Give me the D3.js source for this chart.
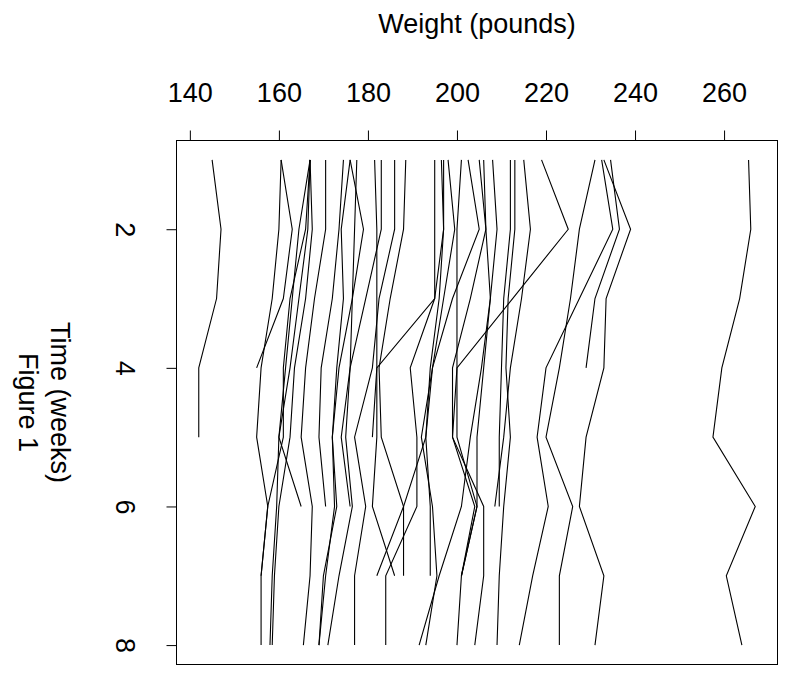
<!DOCTYPE html>
<html>
<head>
<meta charset="utf-8">
<script src="https://cdn.jsdelivr.net/npm/d3@7"></script>
<style>
  body { margin: 0; background: #fff; }
  svg text { font-family: "Liberation Sans", Arial, Helvetica, sans-serif; fill: #000; }
</style>
</head>
<body>
<div id="plot-container"></div>
<script>
// weeks 1..8, one row per subject (null = no measurement)
const weeks = [1, 2, 3, 4, 5, 6, 7, 8];
const weightTicks = [140, 160, 180, 200, 220, 240, 260];
const weekTicks = [2, 4, 6, 8];

const weightSeries = [
    [145, 147, 146, 142, 142],
    [160.5, 163, 161, 155],
    [160.5, 160, 158.5, 156, 155, 157.5, 156],
    [167, 166, 162.5, 161, 161, 157.5, 156, 156],
    [167, 164.5, 163, 161.5, 160, 159.5, 158.5, 158],
    [167, 166.5, 164.5, 162.5, 160, 165],
    [167, 167.5, 166, 163.5, 162.5, 160, 159, 158.5],
    [170.5, 170.5, 168, 166, 165, 167.5, 167, 165.5],
    [174.5, 173.5, 172, 169.5, 169, 170.5],
    [176, 179, 176.5, 173.5, 172, 172.5, 170.5, 169],
    [176, 174, 174.5, 173, 172, 173, 170, 169],
    [177.5, 177, 176.5, 176, 175, 176.5, 173.5, 171],
    [181.5, 182, 182, 182, 181],
    [183, 183, 179.5, 176, 174, 176],
    [186, 186, 182.5, 181, 177, 179.5, 177, 177],
    [188.5, 188, 185, 182.5, 183, 188, 182],
    [195, 195, 195, 182, 182, 181, 186],
    [196.5, 197, 195, 189.5, 191, 191, 184, 184],
    [197, 197, 196, 194, 193, 194, 194],
    [198, 199.5, 197, 194.5, 192, 194.5, 195.5, 193],
    [201, 200, 200, 200, 199, 206, 206, 204],
    [202.5, 205, 199, 194.5, 193, 188, 188],
    [205, 206.5, 203, 199, 199, 204, 201],
    [206, 206.5, 207.5, 205.5, 203, 201, 196, 191.5],
    [208, 209, 207.5, 206, 204.5, 204.5, 201],
    [212, 212, 210.5, 210, 209.5, 209.5],
    [213, 213, 211.5, 211, 212, 210.5, 209.5, 209],
    [215, 216.5, 214.5, 212, 210.5, 208.5],
    [219, 225, 212.5, 200, 200, 204.5, 201, 200],
    [231, 227.5, 225.5, 223, 220, 226, 223, 223],
    [232.5, 235, 227.5, 220, 218, 220.5, 217, 214],
    [233, 239, 233.5, 233, 229, 227.5, 233, 231],
    [234.5, 236.5, 231, 229],
    [265.5, 266, 263.5, 259.5, 257.5, 267, 260.5, 264]
];

const W = 785, H = 677;
const plot = { left: 176.5, right: 777.5, top: 140.5, bottom: 664.5 };

const svg = d3.select("#plot-container")
    .append("svg")
    .attr("width", W)
    .attr("height", H);

// R style axis range: data extent padded by 4% each side
const allW = weightSeries.flat().filter(v => v != null);
const [wMin, wMax] = d3.extent(allW);
const wPad = (wMax - wMin) * 0.04;
const tPad = (d3.max(weeks) - d3.min(weeks)) * 0.04;

const xScale = d3.scaleLinear()
    .domain([wMin - wPad, wMax + wPad])
    .range([plot.left, plot.right]);

const yScale = d3.scaleLinear()
    .domain([d3.min(weeks) - tPad, d3.max(weeks) + tPad])
    .range([plot.top, plot.bottom]);

// lines
const line = d3.line()
    .defined(d => d.w != null)
    .x(d => xScale(d.w))
    .y(d => yScale(d.t));

svg.append("g")
    .selectAll("path")
    .data(weightSeries)
    .enter()
    .append("path")
    .attr("d", s => line(s.map((w, i) => ({ w: w, t: weeks[i] }))))
    .attr("fill", "none")
    .attr("stroke", "#000")
    .attr("stroke-width", 1.1);

// box
svg.append("rect")
    .attr("x", plot.left)
    .attr("y", plot.top)
    .attr("width", plot.right - plot.left)
    .attr("height", plot.bottom - plot.top)
    .attr("fill", "none")
    .attr("stroke", "#000")
    .attr("stroke-width", 1);

// top axis
const xAxis = svg.append("g")
    .attr("transform", "translate(0," + plot.top + ")")
    .call(d3.axisTop(xScale).tickValues(weightTicks).tickSize(10).tickPadding(29).tickFormat(d3.format("d")));
xAxis.select(".domain")
    .attr("d", "M" + xScale(weightTicks[0]) + ",0H" + xScale(weightTicks[weightTicks.length - 1]));
xAxis.selectAll("text")
    .attr("font-size", 27)
    .style("font-family", "'Liberation Sans', Arial, sans-serif");

// left axis, labels turned a quarter clockwise
const yAxis = svg.append("g")
    .attr("transform", "translate(" + plot.left + ",0)")
    .call(d3.axisLeft(yScale).tickValues(weekTicks).tickSize(10).tickFormat(d3.format("d")));
yAxis.select(".domain")
    .attr("d", "M0," + yScale(weekTicks[0]) + "V" + yScale(weekTicks[weekTicks.length - 1]));
yAxis.selectAll("text")
    .attr("x", null)
    .attr("dy", null)
    .attr("text-anchor", "middle")
    .attr("transform", "translate(-61,0) rotate(90)")
    .attr("font-size", 27)
    .style("font-family", "'Liberation Sans', Arial, sans-serif");

// titles
svg.append("text")
    .attr("x", (plot.left + plot.right) / 2)
    .attr("y", 33)
    .attr("text-anchor", "middle")
    .attr("font-size", 27)
    .text("Weight (pounds)");

const midY = (plot.top + plot.bottom) / 2;
svg.append("text")
    .attr("text-anchor", "middle")
    .attr("font-size", 27)
    .attr("transform", "translate(51," + midY + ") rotate(90)")
    .text("Time (weeks)");

svg.append("text")
    .attr("text-anchor", "middle")
    .attr("font-size", 27)
    .attr("transform", "translate(19," + midY + ") rotate(90)")
    .text("Figure 1");
</script>
</body>
</html>
